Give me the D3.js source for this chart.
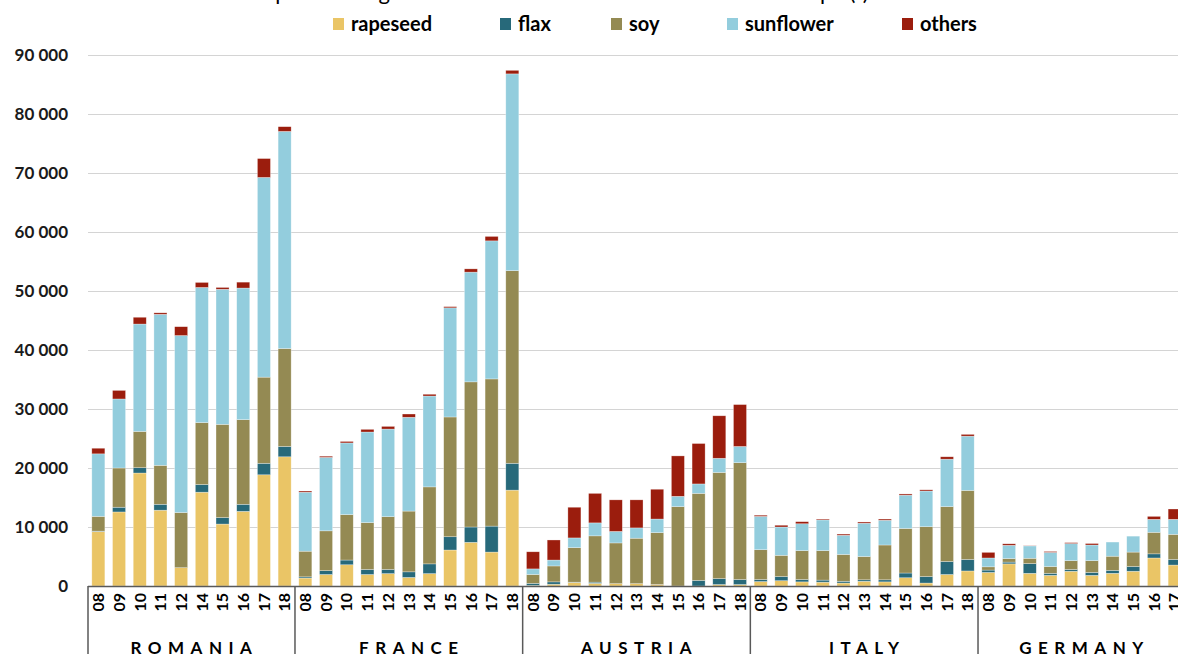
<!DOCTYPE html>
<html>
<head>
<meta charset="utf-8">
<script src="https://cdn.jsdelivr.net/npm/d3@7"></script>
<style>
  html, body { margin: 0; padding: 0; background: #fff; overflow: hidden; }
  svg { display: block; font-family: Lato, "Open Sans", sans-serif; }
</style>
</head>
<body>
<div id="chart"></div>
<script>
// data (tonnes)
const countries = ['ROMANIA', 'FRANCE', 'AUSTRIA', 'ITALY', 'GERMANY'];
const years = [
  ['08', '09', '10', '11', '12', '14', '15', '16', '17', '18'],
  ['08', '09', '10', '11', '12', '13', '14', '15', '16', '17', '18'],
  ['08', '09', '10', '11', '12', '13', '14', '15', '16', '17', '18'],
  ['08', '09', '10', '11', '12', '13', '14', '15', '16', '17', '18'],
  ['08', '09', '10', '11', '12', '13', '14', '15', '16', '17']
];
const seriesNames = ['rapeseed', 'flax', 'soy', 'sunflower', 'others'];
const seriesColors = ['#EAC566', '#27697A', '#948A53', '#93CDDD', '#9B1D0D'];

const rapeseed = [
  9200, 12550, 19150, 12850, 3100, 15900, 10500, 12650, 18850, 21900,
  1350, 1950, 3600, 1950, 2100, 1450, 2100, 6100, 7400, 5750, 16250,
  100, 300, 600, 450, 400, 400, 250, 0, 0, 250, 250,
  750, 900, 700, 650, 500, 800, 700, 1400, 500, 1950, 2550,
  2300, 3750, 2150, 1800, 2500, 1800, 2150, 2500, 4750, 3550
];
const flax = [
  100, 800, 900, 1000, 0, 1300, 1100, 1200, 1950, 1750,
  200, 650, 800, 850, 700, 950, 1650, 2250, 2600, 4400, 4550,
  350, 400, 50, 200, 0, 0, 0, 0, 950, 1000, 850,
  350, 700, 400, 350, 300, 250, 350, 800, 1100, 2200, 1950,
  400, 300, 1650, 350, 300, 500, 500, 800, 700, 950
];
const soy = [
  2500, 6650, 6150, 6600, 9350, 10500, 15800, 14350, 14600, 16600,
  4350, 6750, 7700, 7950, 8950, 10300, 13050, 20300, 24600, 24950, 32650,
  1500, 2700, 5850, 7850, 6900, 7700, 8800, 13450, 14750, 18000, 19800,
  5050, 3600, 4900, 5000, 4550, 3950, 5900, 7550, 8450, 9300, 11700,
  550, 600, 900, 1150, 1500, 2000, 2400, 2450, 3650, 4250
];
const sunflower = [
  10600, 11700, 18200, 25600, 30000, 22900, 22900, 22300, 33850, 36800,
  10000, 12450, 12150, 15350, 14850, 15900, 15400, 18500, 18600, 23400, 33350,
  950, 1000, 1650, 2200, 1950, 1750, 2300, 1750, 1600, 2400, 2750,
  5650, 4800, 4550, 5200, 3250, 5650, 4200, 5650, 6050, 8050, 9200,
  1500, 2250, 2100, 2400, 2900, 2650, 2400, 2700, 2200, 2550
];
const others = [
  950, 1450, 1150, 250, 1500, 850, 300, 1000, 3200, 800,
  200, 200, 250, 450, 450, 550, 300, 200, 550, 750, 600,
  2900, 3400, 5200, 5000, 5350, 4750, 5050, 6850, 6850, 7200, 7100,
  200, 300, 350, 150, 200, 200, 200, 200, 200, 400, 300,
  950, 250, 50, 150, 150, 250, 0, 0, 500, 1750
];
const yTicks = [0, 10000, 20000, 30000, 40000, 50000, 60000, 70000, 80000, 90000];

const W = 1178, H = 654;
const plotLeft = 88, plotRight = 1185, plotTop = 55, plotBottom = 586;

// flat rows for the stack
const rows = [];
countries.forEach((c, ci) => {
  years[ci].forEach(y => {
    const i = rows.length;
    rows.push({
      key: c + '|' + y, country: c, year: y,
      rapeseed: rapeseed[i], flax: flax[i], soy: soy[i],
      sunflower: sunflower[i], others: others[i]
    });
  });
});

const svg = d3.select('#chart').append('svg')
  .attr('width', W).attr('height', H);

const x = d3.scaleBand()
  .domain(rows.map(d => d.key))
  .range([plotLeft, plotRight])
  .paddingInner(0.37)
  .paddingOuter(0.185);
const y = d3.scaleLinear().domain([0, 90000]).range([plotBottom, plotTop]);
const color = d3.scaleOrdinal().domain(seriesNames).range(seriesColors);

// title (cut off at the top in the original)
svg.append('text')
  .attr('x', 560).attr('y', 0)
  .attr('text-anchor', 'middle')
  .style('font-size', '22px')
  .attr('fill', '#000')
  .text('Imports of vegetable oils and oilseeds from Ukraine to Europe (t)');

// gridlines + y labels
const fmt = v => d3.format(',')(v).replace(/,/g, ' ');
svg.append('g')
  .selectAll('line')
  .data(yTicks.filter(d => d > 0))
  .join('line')
  .attr('x1', plotLeft).attr('x2', W)
  .attr('y1', d => Math.round(y(d)) + 0.5).attr('y2', d => Math.round(y(d)) + 0.5)
  .attr('stroke', '#d4d4d4').attr('stroke-width', 1.2);

svg.append('g')
  .selectAll('text')
  .data(yTicks)
  .join('text')
  .attr('x', 68).attr('y', d => y(d))
  .attr('dy', '0.35em')
  .attr('text-anchor', 'end')
  .style('font-size', '17px').style('font-weight', 700)
  .attr('fill', '#1a1a1a')
  .text(fmt);

// stacked bars
const stack = d3.stack().keys(seriesNames)(rows);
svg.append('g')
  .selectAll('g')
  .data(stack)
  .join('g')
  .attr('fill', d => color(d.key))
  .selectAll('rect')
  .data(d => d)
  .join('rect')
  .attr('x', d => x(d.data.key))
  .attr('y', d => y(d[1]))
  .attr('width', x.bandwidth())
  .attr('height', d => Math.max(0, y(d[0]) - y(d[1])))
  .attr('stroke', '#fff').attr('stroke-opacity', 0.5).attr('stroke-width', 0.6);

// category axis
const axisColor = '#595959';
svg.append('line')
  .attr('x1', plotLeft).attr('x2', W)
  .attr('y1', plotBottom + 0.5).attr('y2', plotBottom + 0.5)
  .attr('stroke', axisColor).attr('stroke-width', 1.5);

const groups = countries.map((c, ci) => {
  const ks = rows.filter(r => r.country === c).map(r => r.key);
  const step = x.step();
  const left = x(ks[0]) - step * x.paddingInner() / 2;
  const right = x(ks[ks.length - 1]) + x.bandwidth() + step * x.paddingInner() / 2;
  return { name: c, left, right };
});

svg.append('g')
  .selectAll('line')
  .data(groups.map(g => g.left))
  .join('line')
  .attr('x1', d => d).attr('x2', d => d)
  .attr('y1', plotBottom).attr('y2', H)
  .attr('stroke', axisColor).attr('stroke-width', 1.5);

svg.append('g')
  .selectAll('text')
  .data(rows)
  .join('text')
  .attr('transform', d => `translate(${x(d.key) + x.bandwidth() / 2},593) rotate(-90)`)
  .attr('text-anchor', 'end')
  .attr('dy', '0.36em')
  .style('font-size', '16px').style('font-weight', 700)
  .attr('fill', '#000')
  .text(d => d.year);

svg.append('g')
  .selectAll('text')
  .data(groups)
  .join('text')
  .attr('x', d => (d.left + d.right) / 2 + 3)
  .attr('y', 654)
  .attr('text-anchor', 'middle')
  .style('font-size', '17px').style('font-weight', 700)
  .style('letter-spacing', '6.5px')
  .attr('fill', '#000')
  .text(d => d.name);

// legend
const legendX = [333, 500, 611, 727, 902];
const legend = svg.append('g')
  .selectAll('g')
  .data(seriesNames)
  .join('g')
  .attr('transform', (d, i) => `translate(${legendX[i]},0)`);
legend.append('rect')
  .attr('x', 0).attr('y', 18).attr('width', 11).attr('height', 12)
  .attr('fill', d => color(d));
legend.append('text')
  .attr('x', 18).attr('y', 24).attr('dy', '0.35em')
  .style('font-size', '20px').style('font-weight', 700)
  .attr('fill', '#000')
  .text(d => d);
</script>
</body>
</html>
